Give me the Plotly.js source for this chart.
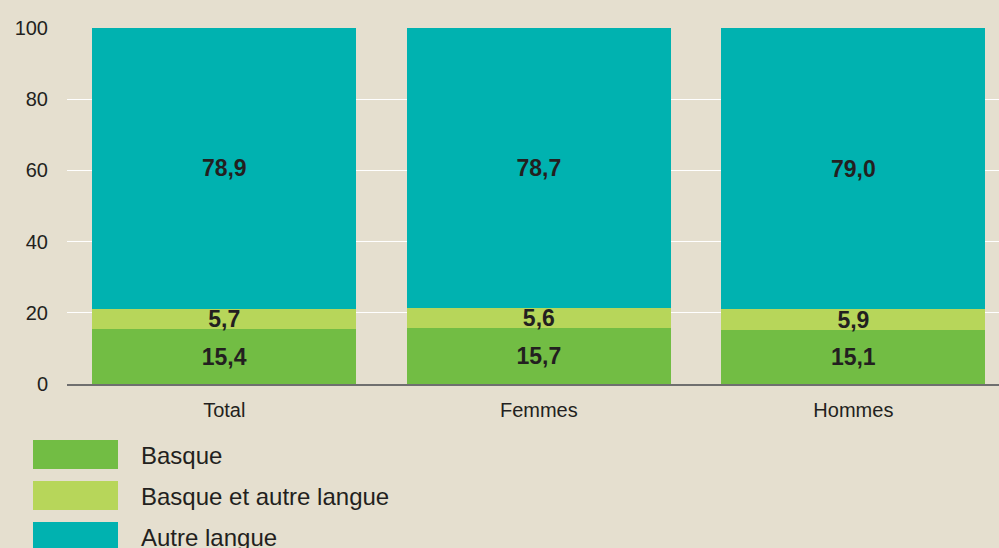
<!DOCTYPE html>
<html>
<head>
<meta charset="utf-8">
<script src="https://cdn.plot.ly/plotly-3.0.1.min.js"></script>
<style>html,body{margin:0;padding:0;background:#e5dfcf;}#chart{width:999px;height:548px;}</style>
</head>
<body>
<div id="chart"></div>
<script>
var categories = ['Total', 'Femmes', 'Hommes'];
var seriesNames = ['Basque', 'Basque et autre langue', 'Autre langue'];
var basque = [15.4, 15.7, 15.1];
var basqueEtAutre = [5.7, 5.6, 5.9];
var autreLangue = [78.9, 78.7, 79.0];
var yTicks = [0, 20, 40, 60, 80, 100];
var colors = ['#72bd44', '#b7d65a', '#00b2b0'];

var font = '"Liberation Sans", Arial, sans-serif';
var values = [basque, basqueEtAutre, autreLangue];
var traces = values.map(function (v, i) {
  return {
    type: 'bar', x: categories, y: v, name: seriesNames[i],
    marker: {color: colors[i], line: {width: 0}},
    texttemplate: '%{y:.1f}', textposition: 'inside', insidetextanchor: 'middle',
    textangle: 0, constraintext: 'none',
    textfont: {family: font, size: 23, color: '#231f20', weight: 'bold'},
    hoverinfo: 'none', showlegend: false
  };
});

var shapes = [], annotations = [];
seriesNames.forEach(function (n, i) {
  var top = -56 - 41 * i;
  shapes.push({type: 'rect', xref: 'paper', yref: 'paper', xsizemode: 'pixel', ysizemode: 'pixel',
    xanchor: 0, yanchor: 0, x0: -34, x1: 51, y0: top, y1: top - 29,
    fillcolor: colors[i], line: {width: 0}});
  annotations.push({xref: 'paper', yref: 'paper', x: 0, y: 0, xshift: 72, yshift: top - 15,
    xanchor: 'left', yanchor: 'middle', showarrow: false, text: n,
    font: {family: font, size: 24, color: '#231f20'}});
});

var layout = {
  width: 999, height: 548,
  margin: {l: 67, r: 0, t: 28, b: 164, pad: 0},
  paper_bgcolor: '#e5dfcf', plot_bgcolor: '#e5dfcf',
  barmode: 'stack', bargap: 0.16,
  separators: ', ',
  uniformtext: {mode: 'show', minsize: 23},
  font: {family: font, color: '#231f20'},
  xaxis: {range: [-0.5, 2.463], showgrid: false, zeroline: false,
    showline: true, linecolor: '#6f6f6f', linewidth: 2, layer: 'above traces',
    ticks: '', ticklabelstandoff: 7, tickfont: {family: font, size: 20, color: '#231f20'}, fixedrange: true},
  yaxis: {range: [0, 100], tickvals: yTicks, ticktext: yTicks.map(String),
    showgrid: true, gridcolor: '#ffffff', gridwidth: 1, zeroline: false, showline: false,
    ticks: '', ticklabelstandoff: 18, tickfont: {family: font, size: 20, color: '#231f20'}, fixedrange: true},
  shapes: shapes, annotations: annotations, showlegend: false
};

Plotly.newPlot('chart', traces, layout, {displayModeBar: false, staticPlot: true});
</script>
</body>
</html>
